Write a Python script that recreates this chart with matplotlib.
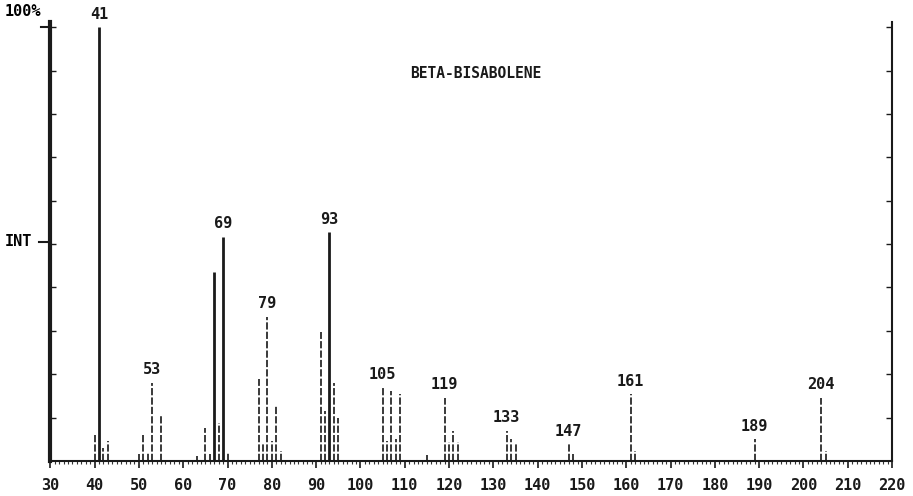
import matplotlib
matplotlib.use("Agg")
import matplotlib.pyplot as plt
from matplotlib.ticker import MultipleLocator

# ---- data ----
mz = [40, 41, 42, 43, 50, 51, 52, 53, 55, 63, 65, 66, 67, 68, 69, 70,
      77, 78, 79, 80, 81, 82, 91, 92, 93, 94, 95,
      105, 106, 107, 108, 109, 115, 119, 120, 121, 122,
      133, 134, 135, 147, 148, 161, 162, 189, 204, 205]
intensity = [6.5, 100, 3, 4.7, 1.5, 6.5, 1.9, 18, 10.6, 1.2, 7.7, 1.5, 43.6, 8.8, 51.7, 1.9,
             18.9, 4.2, 33.2, 4.6, 13, 2.2, 29.7, 11.5, 52.7, 18, 10,
             17, 4.6, 16.2, 5, 15.4, 1.3, 14.6, 4.4, 7, 4.4,
             7, 5, 3.9, 3.9, 1.6, 15.4, 2.2, 5, 14.6, 2.2]
labeled_peaks = [41, 53, 69, 79, 93, 105, 119, 133, 147, 161, 189, 204]
solid_peaks = [41, 67, 69, 93]
x_ticks = list(range(30, 221, 10))
title = "BETA-BISABOLENE"

mono = "DejaVu Sans Mono"
ink = "#1a1a1a"

fig = plt.figure(figsize=(9.13, 4.96), dpi=100)
ax = fig.add_axes([0.0551, 0.0706, 0.922, 0.885])
ax.set_xlim(30, 220)
ax.set_ylim(0, 101.2)

for m, v in zip(mz, intensity):
    if m in solid_peaks:
        ax.vlines(m, 0, v, colors=ink, linewidth=2.0)
    else:
        ax.vlines(m, 0, v, colors="#2a2a2a", linewidth=1.3, linestyles=(0, (4, 1.2)))

lookup = dict(zip(mz, intensity))
for m in labeled_peaks:
    ax.annotate(str(m), xy=(m, lookup[m]), xytext=(0, 4), textcoords="offset points",
                ha="center", va="bottom", fontsize=11, fontweight="bold",
                family=mono, color=ink, annotation_clip=False)

ax.text(0.505, 0.882, title, transform=ax.transAxes, ha="center", va="center",
        fontsize=10.5, fontweight="bold", family=mono, color=ink)

# spines
ax.spines["top"].set_visible(False)
ax.spines["left"].set_linewidth(3.0)
ax.spines["left"].set_color(ink)
ax.spines["right"].set_linewidth(1.5)
ax.spines["right"].set_color(ink)
ax.spines["bottom"].set_linewidth(1.5)
ax.spines["bottom"].set_color(ink)

# x ticks
ax.xaxis.set_minor_locator(MultipleLocator(1))
ax.set_xticks(x_ticks)
ax.set_xticklabels([str(t) for t in x_ticks], family=mono, fontweight="bold", fontsize=11)
ax.tick_params(axis="x", which="major", direction="out", length=5, width=1.2,
               color=ink, pad=7, labelcolor=ink)
ax.tick_params(axis="x", which="minor", direction="out", length=2.5, width=0.8, color="#333333")

# y ticks: every 10% inward on both sides, no labels
ax.set_yticks(list(range(10, 101, 10)))
ax.tick_params(axis="y", which="major", direction="in", length=4, width=1.0,
               left=True, right=True, labelleft=False, color=ink)

# left-side labels
ax.annotate("100%", xy=(0, 100), xycoords=("axes fraction", "data"),
            xytext=(-33, 11), textcoords="offset points", ha="left", va="center",
            fontsize=11, fontweight="bold", family=mono, annotation_clip=False)
ax.plot([-0.011, 0], [100, 100], transform=ax.get_yaxis_transform(), color=ink,
        lw=1.5, clip_on=False)
ax.annotate("INT", xy=(0, 50.5), xycoords=("axes fraction", "data"),
            xytext=(-33, 0), textcoords="offset points", ha="left", va="center",
            fontsize=11, fontweight="bold", family=mono, annotation_clip=False)
ax.plot([-0.013, 0], [50.5, 50.5], transform=ax.get_yaxis_transform(), color=ink,
        lw=1.5, clip_on=False)

fig.savefig("out.png", dpi=100, facecolor="white")
